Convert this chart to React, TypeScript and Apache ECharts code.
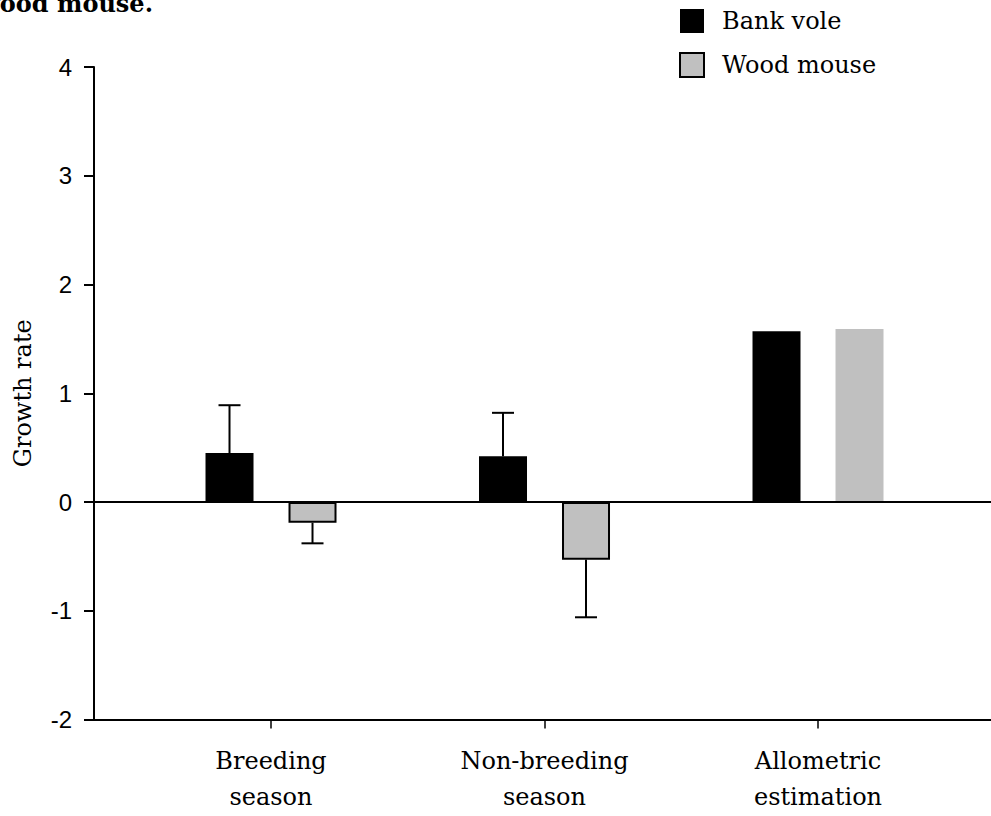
import React, { useEffect, useRef } from "react";
import * as echarts from "echarts";

// Groups shown along the x axis
const categories: string[] = ["Breeding\nseason", "Non-breeding\nseason", "Allometric\nestimation"];

// Mean growth rate per group
const bankVole: number[] = [0.45, 0.42, 1.57];
const woodMouse: number[] = [-0.19, -0.53, 1.59];

// One-sided error bars (null = no error bar drawn)
const bankVoleErr: (number | null)[] = [0.44, 0.4, null];
const woodMouseErr: (number | null)[] = [0.19, 0.53, null];

// Groups whose bars carry a black outline
const outlined: boolean[] = [true, true, false];

const yTicks = { min: -2, max: 4, step: 1 };

const SERIF = "DejaVu Serif";
const SANS = "Liberation Sans";
const GREY = "#c0c0c0";
const BAR_W = 48;
const BAR_GAP = 35;
// x range: group i sits at value i + 1
const X_MIN = 0.3528;
const X_MAX = 3.6325;

export default function App() {
  const ref = useRef<HTMLDivElement>(null);

  useEffect(() => {
    if (!ref.current) return;
    const chart = echarts.init(ref.current, null, { renderer: "svg" });

    const barItem = (v: number, i: number, color: string) => ({
      value: [i + 1, v],
      itemStyle: outlined[i]
        ? { color, borderColor: "#000", borderWidth: 2 }
        : { color, borderWidth: 0 },
    });

    const errData: number[][] = [];
    bankVole.forEach((v, i) => {
      const e = bankVoleErr[i];
      if (e != null) errData.push([i + 1, v, e, -1]);
    });
    woodMouse.forEach((v, i) => {
      const e = woodMouseErr[i];
      if (e != null) errData.push([i + 1, v, e, 1]);
    });

    const option: any = {
      animation: false,
      backgroundColor: "#fff",
      graphic: [
        {
          type: "text",
          x: 153,
          y: 15,
          style: {
            text: "wood mouse.",
            fontFamily: SERIF,
            fontWeight: "bold",
            fontSize: 24,
            fill: "#000",
            align: "right",
            verticalAlign: "bottom",
          },
        },
      ],
      legend: {
        orient: "vertical",
        left: 674,
        top: 4,
        itemWidth: 24,
        itemHeight: 24,
        itemGap: 19,
        icon: "rect",
        textStyle: {
          fontFamily: SERIF,
          fontSize: 24,
          color: "#000",
          padding: [0, 0, 0, 13],
        },
        data: [
          { name: "Bank vole", itemStyle: { color: "#000", borderWidth: 0 } },
          { name: "Wood mouse", itemStyle: { color: GREY, borderColor: "#000", borderWidth: 2 } },
        ],
      },
      grid: { left: 94, right: 0, top: 67, bottom: 96.5, containLabel: false },
      xAxis: {
        type: "value",
        min: X_MIN,
        max: X_MAX,
        axisLine: { onZero: false, lineStyle: { color: "#000", width: 2 } },
        axisTick: {
          show: true,
          length: 9,
          lineStyle: { color: "#000", width: 1.5 },
          customValues: categories.map((_, i) => i + 1),
        },
        axisLabel: {
          show: true,
          customValues: categories.map((_, i) => i + 1),
          formatter: (v: number) => categories[Math.round(v) - 1] ?? "",
          fontFamily: SERIF,
          fontSize: 24,
          lineHeight: 36,
          color: "#000",
          margin: 23,
        },
        splitLine: { show: false },
      },
      yAxis: {
        type: "value",
        min: yTicks.min,
        max: yTicks.max,
        interval: yTicks.step,
        name: "Growth rate",
        nameLocation: "middle",
        nameGap: 59,
        nameTextStyle: { fontFamily: SERIF, fontSize: 24, color: "#000" },
        axisLine: { show: true, lineStyle: { color: "#000", width: 2 } },
        axisTick: { show: true, length: 10, lineStyle: { color: "#000", width: 2 } },
        axisLabel: { fontFamily: SANS, fontSize: 24, color: "#000", margin: 22 },
        splitLine: { show: false },
      },
      series: [
        {
          name: "Bank vole",
          type: "bar",
          barWidth: BAR_W,
          barGap: `${(BAR_GAP / BAR_W) * 100}%`,
          itemStyle: { color: "#000" },
          data: bankVole.map((v, i) => barItem(v, i, "#000")),
          markLine: {
            silent: true,
            symbol: "none",
            label: { show: false },
            lineStyle: { color: "#000", width: 2, type: "solid" },
            data: [{ yAxis: 0 }],
          },
          z: 3,
        },
        {
          name: "Wood mouse",
          type: "bar",
          barWidth: BAR_W,
          barGap: `${(BAR_GAP / BAR_W) * 100}%`,
          itemStyle: { color: GREY, borderColor: "#000", borderWidth: 2 },
          data: woodMouse.map((v, i) => barItem(v, i, GREY)),
          z: 3,
        },
        {
          type: "custom",
          name: "errors",
          z: 4,
          data: errData,
          renderItem: (_params: any, api: any) => {
            const x = api.value(0);
            const v = api.value(1);
            const e = api.value(2);
            const side = api.value(3);
            const end = v >= 0 ? v + e : v - e;
            const p0 = api.coord([x, v]);
            const p1 = api.coord([x, end]);
            const cx = p0[0] + (side * (BAR_W + BAR_GAP)) / 2;
            const cap = 11;
            const style = { stroke: "#000", lineWidth: 2 };
            return {
              type: "group",
              children: [
                { type: "line", shape: { x1: cx, y1: p0[1], x2: cx, y2: p1[1] }, style },
                { type: "line", shape: { x1: cx - cap, y1: p1[1], x2: cx + cap, y2: p1[1] }, style },
              ],
            };
          },
        },
      ],
    };

    chart.setOption(option);
    return () => chart.dispose();
  }, []);

  return (
    <div
      ref={ref}
      style={{ position: "fixed", left: 0, top: 0, width: 991, height: 816, background: "#fff" }}
    />
  );
}
